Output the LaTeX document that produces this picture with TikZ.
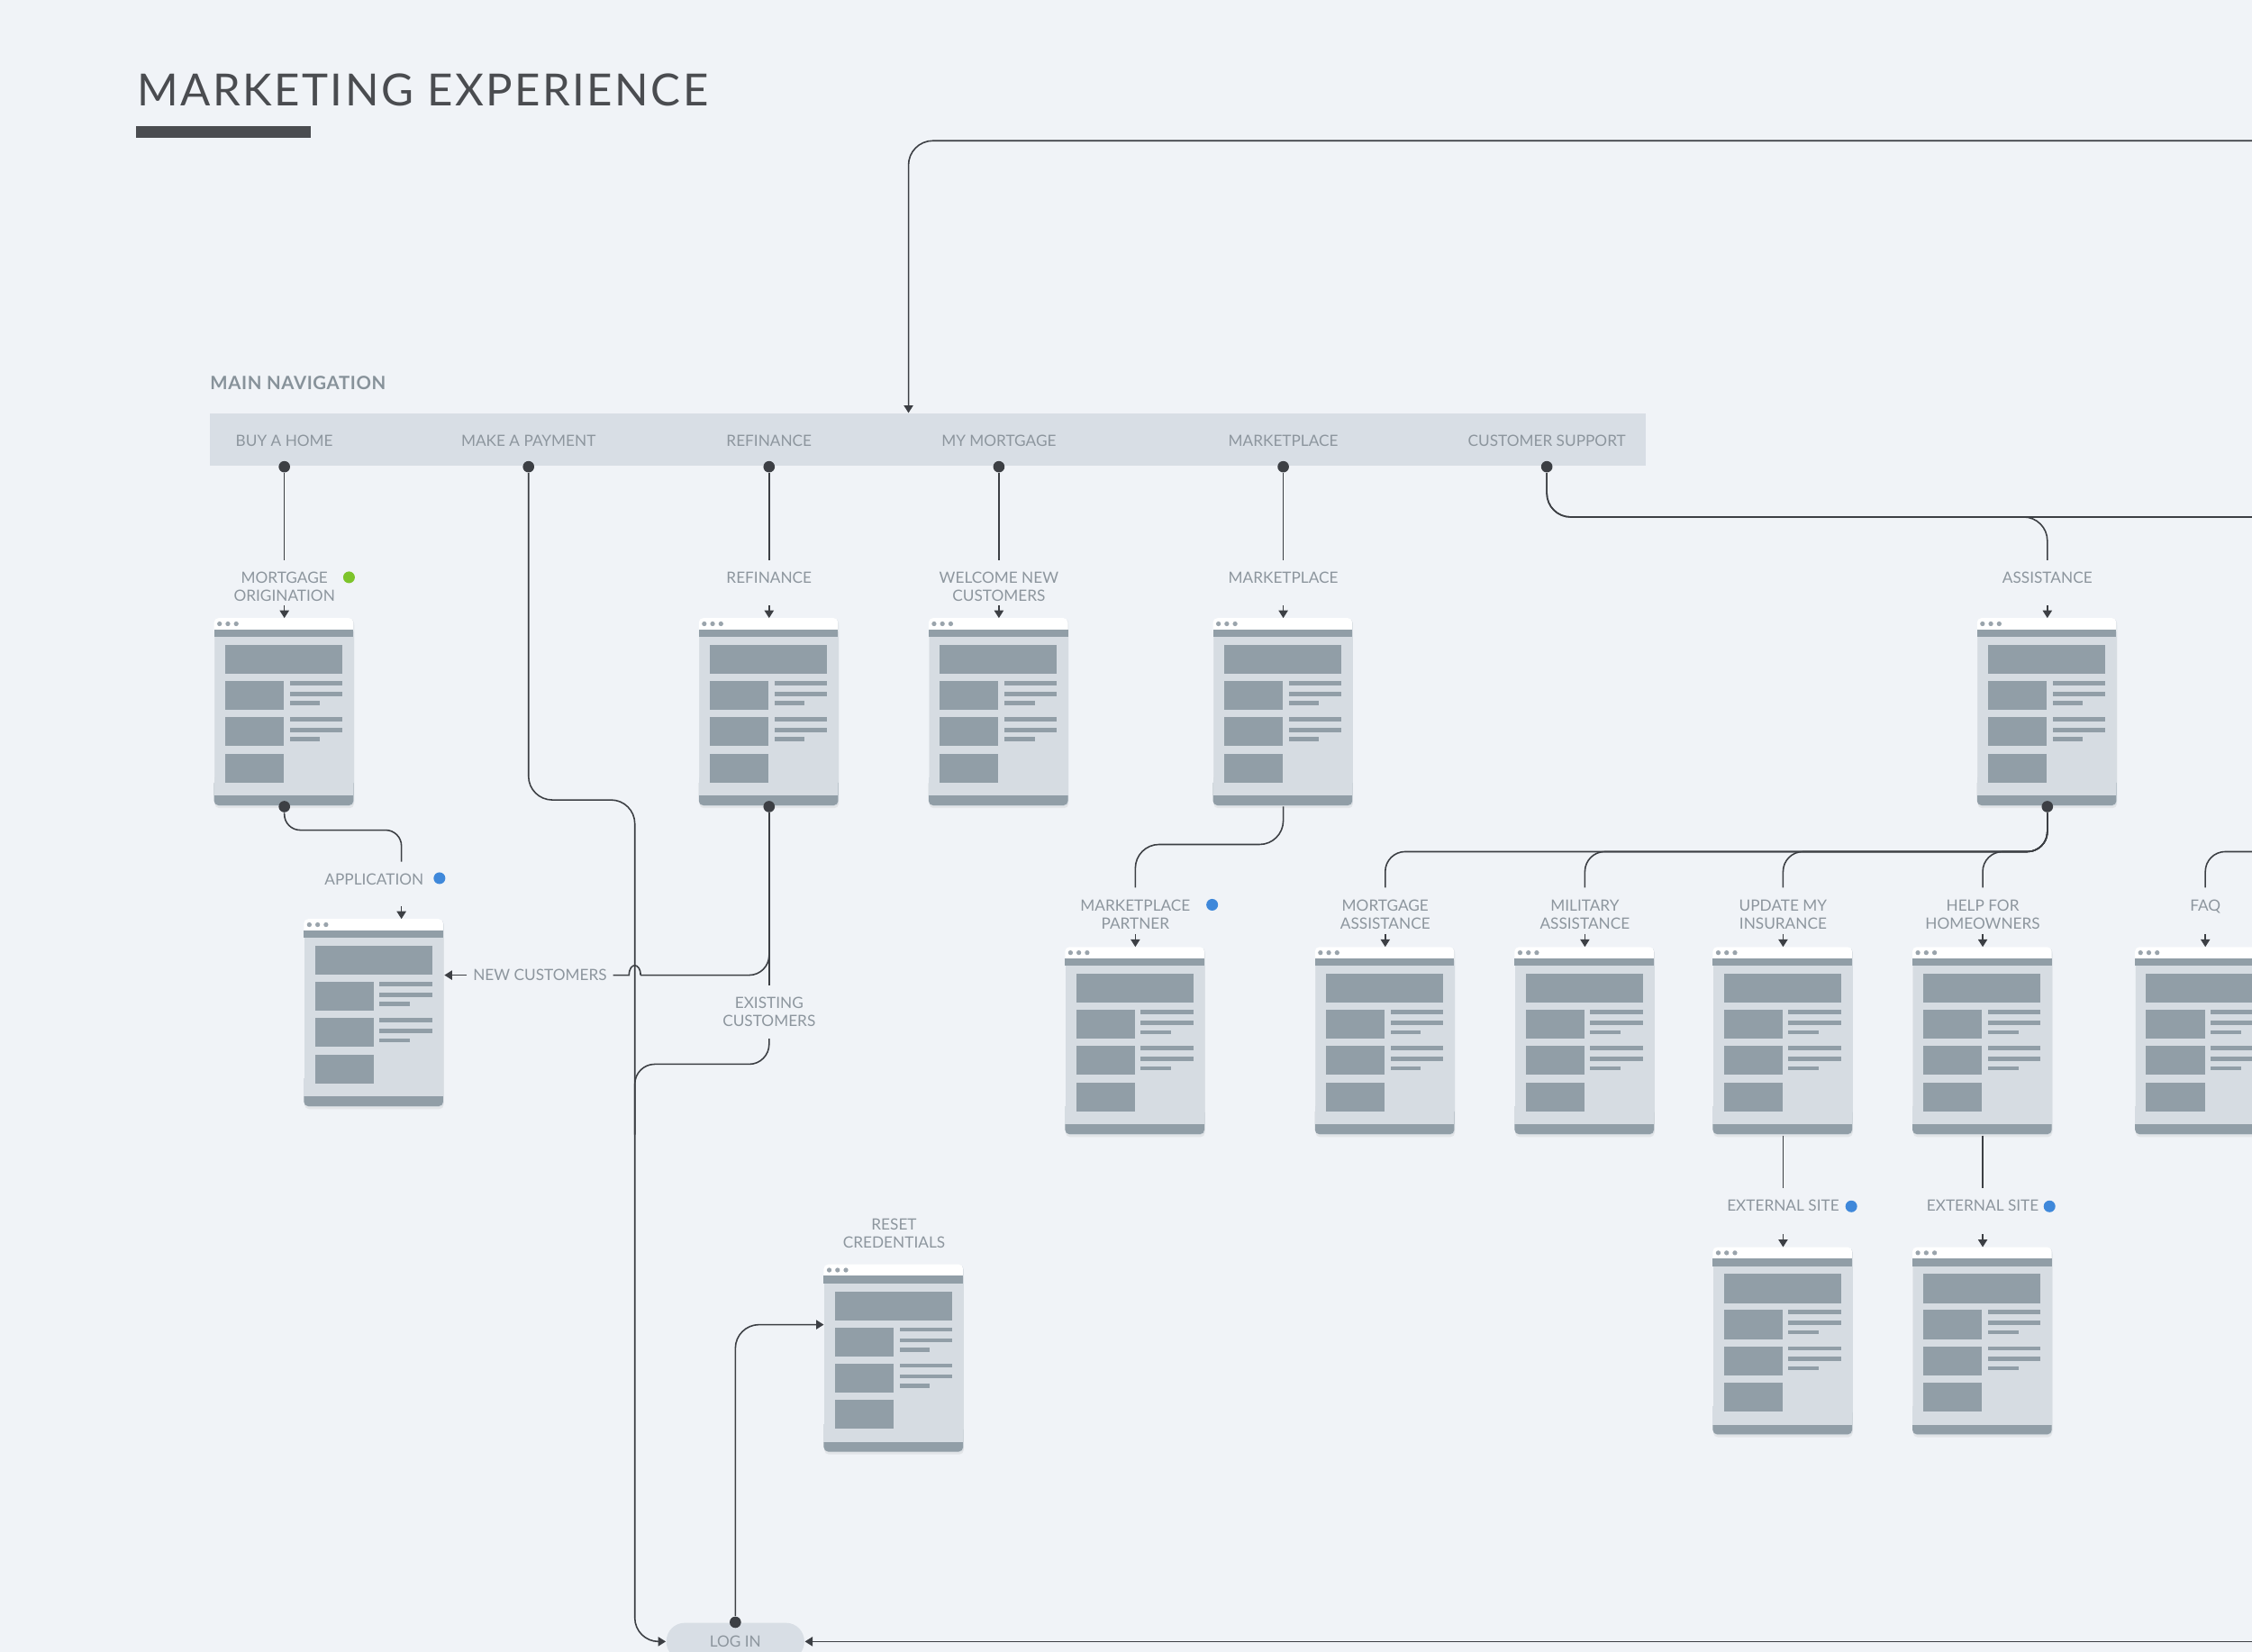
\documentclass[tikz,border=0pt]{standalone}
\usepackage{fontspec}
\setmainfont{Lato}
\usetikzlibrary{arrows.meta,positioning,calc,shadows}
\definecolor{MapBg}{HTML}{F0F3F7}
\definecolor{MapBar}{HTML}{D8DEE5}
\definecolor{MapInk}{HTML}{3C3F44}
\definecolor{MapText}{HTML}{8D969E}
\definecolor{MapHead}{HTML}{87929A}
\definecolor{MapTitle}{HTML}{4A4C50}
\definecolor{PageBody}{HTML}{D6DCE2}
\definecolor{PageDark}{HTML}{919EA7}
\definecolor{PageDots}{HTML}{9AA4AC}
\definecolor{MapGreen}{HTML}{7DC42B}
\definecolor{MapBlue}{HTML}{3F88DA}
\newcommand{\upx}{0.015944cm}
\newcommand{\lblfont}{\fontsize{4.9}{5.7}\selectfont}
% one wireframe page, centred on #2
\newcommand{\wpage}[2]{%
  \node[pg] (#1) at (#2) {};
  \begin{scope}[shift={(#1.north west)}]
    \fill[white,rounded corners=1.4pt] (0,0) rectangle (97,12);
    \fill[PageDark] (0,8) rectangle (97,13.2);
    \foreach \qx in {3.8,9.6,15.4} \fill[PageDots] (\qx,4) circle[radius=0.75pt];
    \fill[PageDark,rounded corners=1.4pt] (0,112) rectangle (97,130.4);
    \fill[PageBody] (0,111) rectangle (97,123.6);
    \fill[PageDark] (7.7,18.8) rectangle (89.3,38.9);
    \foreach \qy in {43.9,69} {
      \fill[PageDark] (7.7,\qy) rectangle +(40.8,20.2);
      \fill[PageDark] (52.7,\qy) rectangle +(36.6,2.9);
      \fill[PageDark] (52.7,\qy+7.5) rectangle +(36.6,2.9);
      \fill[PageDark] (52.7,\qy+14) rectangle +(21.1,2.9);}
    \fill[PageDark] (7.7,94.3) rectangle +(40.8,20.3);
  \end{scope}}

\begin{document}
\begin{tikzpicture}[x=\upx,y=-\upx,
  lbl/.style={font=\lblfont,text=MapText,align=center,
    inner xsep=0pt,inner ysep=3.6pt,anchor=north},
  navtxt/.style={font=\lblfont,text=MapText,inner sep=0pt},
  navbar/.style={fill=MapBar,inner sep=0pt,
    minimum width=1000*\upx,minimum height=36*\upx},
  dotn/.style={circle,fill=MapInk,inner sep=0pt,minimum size=3.6pt},
  stat/.style={circle,fill=#1,inner sep=0pt,minimum size=3.7pt},
  pg/.style={rectangle,fill=PageBody,rounded corners=1.4pt,inner sep=0pt,
    minimum width=97*\upx,minimum height=130.4*\upx,
    drop shadow={shadow xshift=0pt,shadow yshift=-0.7pt,opacity=0.12}},
  pill/.style={fill=MapBar,rounded corners=5.8pt,inner sep=0pt,
    minimum width=96*\upx,minimum height=26*\upx,
    font=\lblfont,text=MapText},
  ln/.style={draw=MapInk,line width=0.45pt},
  arr/.style={ln,-{Triangle[length=2.4pt,width=2.9pt]}}
]
\useasboundingbox (0,0) rectangle (1568,1150);
\clip (0,0) rectangle (1568,1150);
\fill[MapBg] (0,0) rectangle (1568,1150);

% heading
\node[anchor=base west,inner sep=0pt,text=MapTitle,
  font={\fontsize{14}{16}\selectfont\addfontfeatures{LetterSpace=5}}]
  (ttl) at (95,74) {MARKETING EXPERIENCE};
\fill[MapTitle] (95,88) rectangle (216.5,96);
\node[anchor=base west,inner sep=0pt,text=MapHead,
  font={\fontsize{5.8}{6.2}\selectfont\bfseries\addfontfeatures{LetterSpace=3}}]
  (mnav) at (146,271.5) {MAIN NAVIGATION};

% navigation bar
\node[navbar] (nav) at (646,306) {};
\foreach \nx/\nn/\nt in {198/bh/BUY A HOME,368/pay/MAKE A PAYMENT,
    535.5/rf/REFINANCE,695.5/mm/MY MORTGAGE,893.5/mk/MARKETPLACE,
    1077/cs/CUSTOMER SUPPORT} {
  \node[navtxt] (n-\nn) at (\nx,307) {\nt};
  \node[dotn] (d-\nn) at (\nx,325) {};
}

% pages
\wpage{mo}{198,496}
\wpage{rf}{535.5,496}
\wpage{wn}{695.5,496}
\wpage{mp}{893.5,496}
\wpage{as}{1425.5,496}
\wpage{ap}{260.5,705.5}
\wpage{pp}{790.5,725}
\wpage{ma}{964.5,725}
\wpage{mi}{1103.5,725}
\wpage{ui}{1241.5,725}
\wpage{hh}{1380.5,725}
\wpage{fq}{1535.5,725}
\wpage{x1}{1241.5,934}
\wpage{x2}{1380.5,934}
\wpage{rc}{622.5,946}

% labels
\node[lbl] (lmo) at (198,390) {MORTGAGE\\ORIGINATION};
\node[lbl] (lrf) at (535.5,390) {REFINANCE};
\node[lbl] (lwn) at (695.5,390) {WELCOME NEW\\CUSTOMERS};
\node[lbl] (lmp) at (893.5,390) {MARKETPLACE};
\node[lbl] (las) at (1425.5,390) {ASSISTANCE};
\node[lbl] (lap) at (260.5,600) {APPLICATION};
\node[lbl,anchor=center,inner xsep=1.8pt] (lnc) at (376,679) {NEW CUSTOMERS};
\node[lbl] (lec) at (535.5,686) {EXISTING\\CUSTOMERS};
\node[lbl] (lpp) at (790.5,618) {MARKETPLACE\\PARTNER};
\node[lbl] (lma) at (964.5,618) {MORTGAGE\\ASSISTANCE};
\node[lbl] (lmi) at (1103.5,618) {MILITARY\\ASSISTANCE};
\node[lbl] (lui) at (1241.5,618) {UPDATE MY\\INSURANCE};
\node[lbl] (lhh) at (1380.5,618) {HELP FOR\\HOMEOWNERS};
\node[lbl] (lfq) at (1535.5,618) {FAQ};
\node[lbl] (lx1) at (1241.5,827) {EXTERNAL SITE};
\node[lbl] (lx2) at (1380.5,827) {EXTERNAL SITE};
\node[lbl] (lrc) at (622.5,840) {RESET\\CREDENTIALS};

% status markers
\node[stat=MapGreen] (s-mo) at (243,402) {};
\node[stat=MapBlue] (s-ap) at (306,611.5) {};
\node[stat=MapBlue] (s-pp) at (844,630) {};
\node[stat=MapBlue] (s-x1) at (1289,840) {};
\node[stat=MapBlue] (s-x2) at (1427,840) {};

% log in
\node[pill] (li) at (512,1143) {LOG IN};
\node[dotn] (li-d) at (li.north) {};
\node[dotn] (mo-b) at (mo.south) {};
\node[dotn] (rf-b) at (rf.south) {};
\node[dotn] (as-b) at (as.south) {};

% bend points and free ends
\coordinate (top-r) at (1570,98);
\coordinate (pay-turn) at (442,557);
\coordinate (ap-turn) at (279.5,578);
\coordinate (nc-r) at (446,679);
\coordinate (nc-l) at (438,679);
\coordinate (ec-turn) at (442,741);
\coordinate (pay-join) at (442,790);
\coordinate (mk-turn) at (850,588);
\coordinate (cs-turn) at (1300,360);
\coordinate (cs-r) at (1570,360);
\coordinate (bus) at (1200,593);
\coordinate (fq-r) at (1570,593);
\coordinate (li-r) at (1570,1143);

% connectors
\draw[arr,rounded corners=7.7pt] (top-r) -| ($(nav.north west)+(487,0)$);
\draw[ln] (d-bh) -- (lmo);
\draw[ln] (d-rf) -- (lrf);
\draw[ln] (d-mm) -- (lwn);
\draw[ln] (d-mk) -- (lmp);
\draw[ln,rounded corners=7.5pt] (d-cs) |- (cs-turn) -| (las.north);
\draw[ln,rounded corners=7.5pt] (d-cs) |- (cs-r);
\draw[arr,rounded corners=7.5pt] (d-pay) |- (pay-turn) |- (li.west);
\foreach \p in {mo,rf,wn,mp,as,pp,ma,mi,ui,hh,fq,x1,x2}
  \draw[arr] ($(\p.north)+(0,-9)$) -- (\p.north);
\draw[arr] ($(ap.north -| ap-turn)+(0,-9)$) -- (ap.north -| ap-turn);
\draw[ln,rounded corners=5pt] (mo-b) |- (ap-turn) -- (lap.north -| ap-turn);
\draw[ln,rounded corners=6.3pt] (rf-b) |- (nc-r);
\draw[ln] (nc-r) .. controls +(0,-9) and +(0,-9) .. (nc-l) -- (lnc);
\draw[arr] (lnc) -- (lnc -| ap.east);
\draw[ln] (rf-b) -- (lec);
\draw[ln,rounded corners=6.3pt] (lec.south) |- (ec-turn) -- (pay-join);
\draw[ln,rounded corners=7.5pt] (mp.south) |- (mk-turn) -| (lpp.north);
\foreach \t in {lma,lmi,lui,lhh}
  \draw[ln,rounded corners=6.3pt] (as-b) |- (bus -| \t.north) -- (\t.north);
\draw[ln,rounded corners=6.3pt] (fq-r) -| (lfq.north);
\draw[ln] (ui) -- (lx1);
\draw[ln] (hh) -- (lx2);
\draw[arr,rounded corners=7.5pt] (li-d) |- ($(rc.north west)+(0,42)$);
\draw[arr] (li-r) -- (li);
\end{tikzpicture}
\end{document}
